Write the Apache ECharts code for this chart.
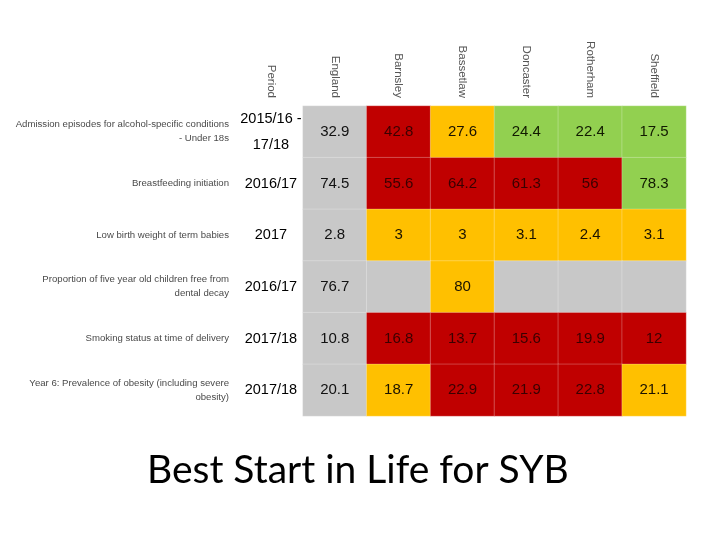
<!DOCTYPE html>
<html>
<head>
<meta charset="utf-8">
<script src="https://cdn.jsdelivr.net/npm/echarts@6/dist/echarts.min.js"></script>
<style>html,body{margin:0;padding:0;background:#fff}#c{width:720px;height:540px}</style>
</head>
<body>
<div id="c"></div>
<script>
var columns = ["Period", "England", "Barnsley", "Bassetlaw", "Doncaster", "Rotherham", "Sheffield"];
var indicators = [
  "Admission episodes for alcohol-specific conditions\n- Under 18s",
  "Breastfeeding initiation",
  "Low birth weight of term babies",
  "Proportion of five year old children free from\ndental decay",
  "Smoking status at time of delivery",
  "Year 6: Prevalence of obesity (including severe\nobesity)"
];
var periods = ["2015/16 -\n17/18", "2016/17", "2017", "2016/17", "2017/18", "2017/18"];
// values: England, Barnsley, Bassetlaw, Doncaster, Rotherham, Sheffield (null = no data)
var values = [
  [32.9, 42.8, 27.6, 24.4, 22.4, 17.5],
  [74.5, 55.6, 64.2, 61.3, 56, 78.3],
  [2.8, 3, 3, 3.1, 2.4, 3.1],
  [76.7, null, 80, null, null, null],
  [10.8, 16.8, 13.7, 15.6, 19.9, 12],
  [20.1, 18.7, 22.9, 21.9, 22.8, 21.1]
];
// ratings: n = not compared / grey, r = worse, a = similar, g = better
var ratings = [
  ["n", "r", "a", "g", "g", "g"],
  ["n", "r", "r", "r", "r", "g"],
  ["n", "a", "a", "a", "a", "a"],
  ["n", "n", "a", "n", "n", "n"],
  ["n", "r", "r", "r", "r", "r"],
  ["n", "a", "r", "r", "r", "a"]
];
var title = "Best Start in Life for SYB";

var fill = { n: "#c8c8c8", r: "#c00000", a: "#ffc000", g: "#92d050" };
var txt = { n: "#111111", r: "#3a0000", a: "#1a1200", g: "#111a00" };

var cellData = [];
var periodData = [];
for (var i = 0; i < indicators.length; i++) {
  periodData.push({ value: [0, i, 0], period: periods[i] });
  for (var j = 0; j < values[i].length; j++) {
    var r = ratings[i][j];
    var v = values[i][j];
    cellData.push({
      value: [j + 1, i, v == null ? 0 : v],
      missing: v == null,
      itemStyle: { color: fill[r] },
      label: { color: txt[r] }
    });
  }
}

var chart = echarts.init(document.getElementById('c'));
chart.setOption({
  animation: false,
  backgroundColor: '#ffffff',
  title: {
    text: title, left: 142, top: 446,
    textStyle: { fontFamily: 'Lato', fontWeight: 'normal', fontSize: 39, color: '#000' }
  },
  grid: { left: 239, right: 34, top: 106, bottom: 124 },
  xAxis: {
    type: 'category', data: columns, position: 'top',
    axisLine: { show: false }, axisTick: { show: false }, splitLine: { show: false },
    axisLabel: { rotate: 90, margin: 8, fontSize: 11.5, color: '#555', fontFamily: 'Liberation Sans' }
  },
  yAxis: {
    type: 'category', data: indicators, inverse: true,
    axisLine: { show: false }, axisTick: { show: false }, splitLine: { show: false },
    axisLabel: { margin: 10, fontSize: 9.6, lineHeight: 14, color: '#4a4a4a', fontFamily: 'Liberation Sans', align: 'right' }
  },
  series: [
    {
      type: 'heatmap', data: cellData,
      itemStyle: { borderColor: 'rgba(255,255,255,0.25)', borderWidth: 1 },
      label: {
        show: true, fontSize: 15, fontFamily: 'Liberation Sans',
        formatter: function (p) { return p.data.missing ? '' : String(p.value[2]); }
      }
    },
    {
      type: 'heatmap', data: periodData,
      itemStyle: { color: 'rgba(255,255,255,0)' },
      label: {
        show: true, fontSize: 14.5, lineHeight: 26, color: '#000', fontFamily: 'Liberation Sans',
        formatter: function (p) { return p.data.period; }
      }
    }
  ]
});
</script>
</body>
</html>
